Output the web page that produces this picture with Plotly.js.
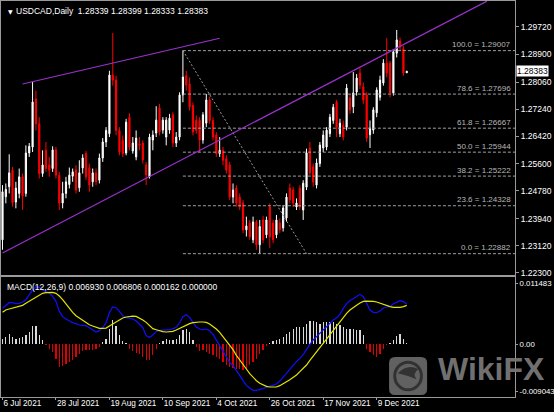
<!DOCTYPE html>
<html><head><meta charset="utf-8">
<script src="https://cdn.plot.ly/plotly-3.0.1.min.js"></script>
<style>html,body{margin:0;padding:0;background:#000;overflow:hidden}#chart{width:554px;height:412px}</style>
</head><body><div id="chart"></div>
<script>
const dates = [
'2021-07-06','2021-07-07','2021-07-08','2021-07-09','2021-07-12','2021-07-13','2021-07-14','2021-07-15','2021-07-16','2021-07-19','2021-07-20','2021-07-21','2021-07-22','2021-07-23','2021-07-26','2021-07-27','2021-07-28','2021-07-29','2021-07-30',
'2021-08-02','2021-08-03','2021-08-04','2021-08-05','2021-08-06','2021-08-09','2021-08-10','2021-08-11','2021-08-12','2021-08-13','2021-08-16','2021-08-17','2021-08-18','2021-08-19','2021-08-20','2021-08-23','2021-08-24','2021-08-25','2021-08-26','2021-08-27','2021-08-30','2021-08-31',
'2021-09-01','2021-09-02','2021-09-03','2021-09-06','2021-09-07','2021-09-08','2021-09-09','2021-09-10','2021-09-13','2021-09-14','2021-09-15','2021-09-16','2021-09-17','2021-09-20','2021-09-21','2021-09-22','2021-09-23','2021-09-24','2021-09-27','2021-09-28','2021-09-29','2021-09-30',
'2021-10-01','2021-10-04','2021-10-05','2021-10-06','2021-10-07','2021-10-08','2021-10-11','2021-10-12','2021-10-13','2021-10-14','2021-10-15','2021-10-18','2021-10-19','2021-10-20','2021-10-21','2021-10-22','2021-10-25','2021-10-26','2021-10-27','2021-10-28','2021-10-29',
'2021-11-01','2021-11-02','2021-11-03','2021-11-04','2021-11-05','2021-11-08','2021-11-09','2021-11-10','2021-11-11','2021-11-12','2021-11-15','2021-11-16','2021-11-17','2021-11-18','2021-11-19','2021-11-22','2021-11-23','2021-11-24','2021-11-25','2021-11-26','2021-11-29','2021-11-30',
'2021-12-01','2021-12-02','2021-12-03','2021-12-06','2021-12-07','2021-12-08','2021-12-09','2021-12-10','2021-12-13','2021-12-14','2021-12-15','2021-12-16','2021-12-17','2021-12-20','2021-12-21','2021-12-22'];

const openP = [1.2330,1.2460,1.2490,1.2540,1.2444,1.2470,1.2520,1.2470,1.2592,1.2610,
1.2755,1.2680,1.2530,1.2600,1.2556,1.2545,1.2601,1.2525,1.2441,1.2470,
1.2497,1.2522,1.2541,1.2487,1.2547,1.2590,1.2547,1.2505,1.2532,1.2510,
1.2577,1.2625,1.2650,1.2827,1.2812,1.2660,1.2630,1.2592,1.2700,1.2598,
1.2580,1.2620,1.2622,1.2556,1.2520,1.2631,1.2652,1.2728,1.2661,1.2640,
1.2661,1.2707,1.2622,1.2640,1.2767,1.2825,1.2800,1.2735,1.2690,1.2691,
1.2631,1.2682,1.2752,1.2690,1.2646,1.2590,1.2600,1.2575,1.2556,1.2459,
1.2486,1.2459,1.2441,1.2360,1.2381,1.2330,1.2384,1.2315,1.2390,1.2345,
1.2429,1.2381,1.2345,1.2381,1.2366,1.2396,1.2486,1.2480,1.2429,1.2486,
1.2420,1.2489,1.2607,1.2550,1.2495,1.2560,1.2607,1.2610,1.2650,1.2690,
1.2746,1.2650,1.2676,1.2670,1.2758,1.2731,1.2776,1.2833,1.2791,1.2767,
1.2647,1.2661,1.2713,1.2760,1.2803,1.2863,1.2863,1.2773,1.2893,1.2930,
1.2906,1.28339];
const highP = [1.2495,1.2500,1.2588,1.2550,1.2505,1.2545,1.2530,1.2615,1.2622,1.2806,
1.2780,1.2700,1.2600,1.2625,1.2580,1.2612,1.2610,1.2535,1.2505,1.2520,
1.2548,1.2545,1.2555,1.2570,1.2588,1.2598,1.2560,1.2545,1.2545,1.2590,
1.2637,1.2670,1.2840,1.2954,1.2825,1.2670,1.2645,1.2695,1.2712,1.2640,
1.2660,1.2640,1.2630,1.2565,1.2650,1.2660,1.2733,1.2740,1.2700,1.2700,
1.2710,1.2715,1.2655,1.2775,1.29007,1.2840,1.2820,1.2745,1.2705,1.2700,
1.2715,1.2770,1.2762,1.2700,1.2655,1.2640,1.2610,1.2585,1.2565,1.2500,
1.2495,1.2470,1.2450,1.2400,1.2390,1.2400,1.2390,1.2390,1.2402,1.2400,
1.2440,1.2390,1.2405,1.2395,1.2435,1.2470,1.2500,1.2490,1.2455,1.2495,
1.2510,1.2605,1.2625,1.2560,1.2575,1.2625,1.2660,1.2670,1.2710,1.2740,
1.2752,1.2695,1.2690,1.2800,1.2770,1.2836,1.2830,1.2848,1.2805,1.2775,
1.2690,1.2730,1.2790,1.2825,1.2875,1.2939,1.2870,1.2905,1.2963,1.2940,
1.2915,1.28399];
const lowP = [1.2300,1.2440,1.2470,1.2430,1.2425,1.2455,1.2420,1.2460,1.2580,1.2595,
1.2660,1.2515,1.2520,1.2535,1.2520,1.2535,1.2515,1.2420,1.2425,1.2455,
1.2485,1.2505,1.2470,1.2475,1.2530,1.2510,1.2475,1.2490,1.2495,1.2500,
1.2565,1.2610,1.2640,1.2795,1.2645,1.2585,1.2580,1.2585,1.2600,1.2590,
1.2570,1.2600,1.2560,1.2495,1.2515,1.2600,1.2640,1.2645,1.2650,1.2615,
1.2650,1.2610,1.2610,1.2630,1.2745,1.2780,1.2720,1.2645,1.2650,1.2595,
1.2620,1.2670,1.2680,1.2630,1.2580,1.2580,1.2555,1.2530,1.2450,1.2440,
1.2430,1.2420,1.2350,1.2340,1.2330,1.2320,1.2300,1.22882,1.2320,1.2335,
1.2305,1.2320,1.2335,1.2350,1.2355,1.2385,1.2440,1.2430,1.2420,1.2420,
1.2390,1.2480,1.2525,1.2490,1.2485,1.2550,1.2595,1.2600,1.2640,1.2680,
1.2640,1.2640,1.2630,1.2660,1.2710,1.2712,1.2765,1.2785,1.2740,1.2625,
1.2607,1.2650,1.2700,1.2750,1.2795,1.2820,1.2760,1.2765,1.2880,1.2900,
1.2825,1.28333];
const closeP = [1.2475,1.2482,1.2532,1.2442,1.2486,1.2520,1.2462,1.2592,1.2612,1.2746,
1.2680,1.2530,1.2556,1.2545,1.2540,1.2601,1.2525,1.2441,1.2470,1.2505,
1.2525,1.2535,1.2480,1.2532,1.2577,1.2520,1.2495,1.2532,1.2505,1.2577,
1.2625,1.2660,1.2827,1.2812,1.2660,1.2595,1.2590,1.2685,1.2610,1.2622,
1.2637,1.2615,1.2571,1.2526,1.2640,1.2646,1.2691,1.2655,1.2691,1.2691,
1.2697,1.2622,1.2640,1.2767,1.2821,1.2797,1.2731,1.2655,1.2660,1.2631,
1.2707,1.2752,1.2690,1.2640,1.2590,1.2600,1.2570,1.2540,1.2459,1.2480,
1.2441,1.2429,1.2360,1.2372,1.2339,1.2384,1.2315,1.2370,1.2330,1.2390,
1.2339,1.2330,1.2390,1.2360,1.2426,1.2459,1.2450,1.2441,1.2441,1.2429,
1.2501,1.2592,1.2532,1.2504,1.2562,1.2616,1.2646,1.2661,1.2700,1.2730,
1.2670,1.2682,1.2640,1.2788,1.2722,1.2773,1.2818,1.2797,1.2752,1.2637,
1.2667,1.2722,1.2782,1.2812,1.2863,1.2833,1.2773,1.2897,1.2933,1.2912,
1.2833,1.28383];

const macdMain = [0.00621,0.00679,0.00719,0.00719,0.00702,0.00708,0.00731,0.00771,0.00864,0.00940,
0.00998,0.00986,0.00940,0.00905,0.00882,0.00829,0.00742,0.00568,0.00476,0.00435,
0.00400,0.00371,0.00354,0.00331,0.00325,0.00319,0.00284,0.00244,0.00209,0.00232,
0.00284,0.00371,0.00545,0.00644,0.00632,0.00568,0.00493,0.00458,0.00441,0.00435,
0.00400,0.00348,0.00284,0.00145,0.00116,0.00157,0.00215,0.00238,0.00238,0.00238,
0.00249,0.00267,0.00290,0.00365,0.00476,0.00510,0.00464,0.00377,0.00296,0.00261,
0.00249,0.00261,0.00232,0.00168,0.00075,-0.00023,-0.00122,-0.00215,-0.00319,-0.00377,
-0.00452,-0.00545,-0.00638,-0.00719,-0.00771,-0.00806,-0.00806,-0.00795,-0.00777,-0.00754,
-0.00737,-0.00719,-0.00696,-0.00644,-0.00568,-0.00510,-0.00441,-0.00365,-0.00307,-0.00249,
-0.00186,-0.00093,-0.00006,0.00070,0.00128,0.00186,0.00244,0.00302,0.00360,0.00418,
0.00452,0.00516,0.00621,0.00702,0.00754,0.00795,0.00829,0.00864,0.00824,0.00702,
0.00592,0.00551,0.00545,0.00574,0.00626,0.00644,0.00650,0.00702,0.00731,0.00754,
0.00737,0.00696];
const macdSignal = [0.00551,0.00592,0.00609,0.00626,0.00644,0.00650,0.00673,0.00708,0.00742,0.00783,
0.00824,0.00858,0.00882,0.00893,0.00899,0.00899,0.00882,0.00835,0.00771,0.00696,
0.00615,0.00551,0.00493,0.00452,0.00412,0.00371,0.00336,0.00313,0.00296,0.00273,
0.00273,0.00278,0.00313,0.00348,0.00389,0.00423,0.00452,0.00470,0.00481,0.00487,
0.00481,0.00452,0.00418,0.00377,0.00319,0.00267,0.00249,0.00226,0.00215,0.00209,
0.00209,0.00220,0.00244,0.00273,0.00302,0.00325,0.00354,0.00371,0.00383,0.00383,
0.00383,0.00377,0.00348,0.00307,0.00261,0.00203,0.00128,0.00058,-0.00023,-0.00099,
-0.00197,-0.00284,-0.00360,-0.00435,-0.00516,-0.00586,-0.00638,-0.00684,-0.00713,-0.00737,
-0.00748,-0.00748,-0.00748,-0.00725,-0.00696,-0.00655,-0.00621,-0.00580,-0.00539,-0.00481,
-0.00423,-0.00365,-0.00284,-0.00209,-0.00133,-0.00052,0.00023,0.00099,0.00174,0.00244,
0.00313,0.00383,0.00458,0.00534,0.00592,0.00638,0.00673,0.00713,0.00742,0.00748,
0.00748,0.00742,0.00731,0.00708,0.00690,0.00673,0.00650,0.00638,0.00632,0.00638,
0.00650,0.00673];
const macdHist = [0.00093,0.00122,0.00168,0.00122,0.00093,0.00104,0.00122,0.00151,0.00209,0.00307,0.00307,0.00151,0.00064,
-0.00023,-0.00081,-0.00139,-0.00255,-0.00400,-0.00389,-0.00342,-0.00313,-0.00284,-0.00226,-0.00180,-0.00122,-0.00099,-0.00110,-0.00110,-0.00081,-0.00052,
0.00035,0.00093,0.00267,0.00412,0.00307,0.00151,0.00052,0.00017,
-0.00081,-0.00122,-0.00157,-0.00180,-0.00226,-0.00273,-0.00284,-0.00197,-0.00081,
0.00017,0.00052,0.00093,0.00064,0.00064,0.00093,0.00151,0.00238,0.00267,0.00209,0.00064,
-0.00052,-0.00122,-0.00110,-0.00139,-0.00168,-0.00197,-0.00226,-0.00255,-0.00313,-0.00371,-0.00400,-0.00412,-0.00429,-0.00429,-0.00447,-0.00429,-0.00371,-0.00313,-0.00255,-0.00180,-0.00110,-0.00041,
0.00017,0.00052,0.00075,0.00093,0.00122,0.00168,0.00209,0.00267,0.00296,0.00296,0.00296,0.00354,0.00400,0.00400,0.00383,0.00354,0.00383,0.00383,0.00383,0.00383,0.00354,0.00325,0.00296,0.00267,0.00267,0.00267,0.00249,0.00238,0.00151,
-0.00081,-0.00139,-0.00197,-0.00226,-0.00180,-0.00081,-0.00023,
0.00017,0.00064,0.00133,0.00168,0.00093,0.00016];

const priceTickVals = [1.29720,1.28900,1.28060,1.27240,1.26420,1.25600,1.24780,1.23940,1.23120,1.22300];
const dateTickVals = ['2021-07-06','2021-07-28','2021-08-19','2021-09-10','2021-10-04','2021-10-26','2021-11-17','2021-12-09'];
const dateTickText = ['6 Jul 2021','28 Jul 2021','19 Aug 2021','10 Sep 2021','4 Oct 2021','26 Oct 2021','17 Nov 2021','9 Dec 2021'];
const macdTickVals = [0.0106, 0, -0.0082];
const macdTickText = ['0.011483','0.00','-0.009043'];
const fibLevels = [100.0, 78.6, 61.8, 50.0, 38.2, 23.6, 0.0];
const fibPrices = [1.29007, 1.27696, 1.26667, 1.25944, 1.25222, 1.24328, 1.22882];
const fibHighDate = '2021-09-20';
const fibLowDate = '2021-11-10';
const upperChannelDates = ['2021-07-14','2021-10-05'];
const upperChannelPrices = [1.28000, 1.29379];
const lowerChannelIdx = [0, 145];
const lowerChannelPrices = [1.22903, 1.30500];
const titleText = 'USDCAD,Daily  1.28339 1.28399 1.28333 1.28383';
const macdText = 'MACD(12,26,9) 0.006930 0.006806 0.000162 0.000000';

const FONT = 'Liberation Sans, Arial, sans-serif';
const xRange = [-0.45, 153.4];
const lastIdx = dates.length - 1;
const idx = d => dates.indexOf(d);

const traces = [
  {type:'candlestick', x:dates, open:openP, high:highP, low:lowP, close:closeP,
   xaxis:'x', yaxis:'y', whiskerwidth:0, hoverinfo:'skip',
   increasing:{line:{color:'#ffffff', width:1}, fillcolor:'#ffffff'},
   decreasing:{line:{color:'#ff0000', width:1}, fillcolor:'#ff0000'}},
  {type:'bar', x:dates, y:macdHist, xaxis:'x2', yaxis:'y2', width:0.38,
   marker:{color: macdHist.map(v => v >= 0 ? '#d9d9d9' : '#e00000'), line:{width:0}}, hoverinfo:'skip'},
  {type:'scatter', mode:'lines', x:dates, y:macdMain, xaxis:'x2', yaxis:'y2',
   line:{color:'#1010ff', width:1.2}, hoverinfo:'skip'},
  {type:'scatter', mode:'lines', x:dates, y:macdSignal, xaxis:'x2', yaxis:'y2',
   line:{color:'#e4e400', width:1.2}, hoverinfo:'skip'}
];

const shapes = [];
const annotations = [];
const hiIdx = idx(fibHighDate), loIdx = idx(fibLowDate);
fibLevels.forEach((lv, k) => {
  shapes.push({type:'line', xref:'x', yref:'y', x0:hiIdx, x1:xRange[1], y0:fibPrices[k], y1:fibPrices[k],
    line:{color:'#a0a0a0', width:1, dash:'3px,2px'}});
  annotations.push({xref:'paper', yref:'y', x:0.996, y:fibPrices[k], xanchor:'right', yanchor:'middle', yshift:6,
    text: lv.toFixed(1) + ' = ' + fibPrices[k].toFixed(5), showarrow:false, font:{family:FONT, size:8, color:'#b8b8b8'}});
});
shapes.push({type:'line', xref:'x', yref:'y', x0:hiIdx, x1:loIdx, y0:fibPrices[0], y1:fibPrices[fibPrices.length-1],
  line:{color:'#9c9c9c', width:1, dash:'2px,2px'}});
shapes.push({type:'line', xref:'x', yref:'y', x0:idx(upperChannelDates[0]), x1:idx(upperChannelDates[1]),
  y0:upperChannelPrices[0], y1:upperChannelPrices[1], line:{color:'#9a32cd', width:1.2}});
shapes.push({type:'line', xref:'x', yref:'y', x0:lowerChannelIdx[0], x1:lowerChannelIdx[1],
  y0:lowerChannelPrices[0], y1:lowerChannelPrices[1], line:{color:'#9a32cd', width:1.2}});

// WikiFX watermark (paper coords)
const lx0 = 0.755, lx1 = 0.829, ly0 = 0.005, ly1 = 0.101, rr = 0.012, ry = 0.016;
shapes.push({type:'path', xref:'paper', yref:'paper', layer:'above', fillcolor:'rgba(105,105,105,0.92)', line:{width:0},
  path:`M ${lx0+rr} ${ly0} L ${lx1-rr} ${ly0} Q ${lx1} ${ly0} ${lx1} ${ly0+ry} L ${lx1} ${ly1-ry} Q ${lx1} ${ly1} ${lx1-rr} ${ly1} L ${lx0+rr} ${ly1} Q ${lx0} ${ly1} ${lx0} ${ly1-ry} L ${lx0} ${ly0+ry} Q ${lx0} ${ly0} ${lx0+rr} ${ly0} Z`});
shapes.push({type:'circle', xref:'paper', yref:'paper', layer:'above', x0:0.766, x1:0.818, y0:0.018, y1:0.088,
  line:{color:'rgba(45,45,45,0.9)', width:3}});
shapes.push({type:'path', xref:'paper', yref:'paper', layer:'above', fillcolor:'rgba(45,45,45,0.9)', line:{width:0},
  path:'M 0.772 0.06 Q 0.792 0.085 0.812 0.07 Q 0.800 0.060 0.808 0.045 Q 0.790 0.055 0.772 0.06 Z'});
annotations.push({xref:'paper', yref:'paper', x:0.847, y:0.07, xanchor:'left', yanchor:'middle', showarrow:false,
  text:'<b>WikiFX</b>', font:{family:FONT, size:32, color:'rgba(120,120,120,0.95)'}});

annotations.push({xref:'paper', yref:'paper', x:0, y:1, xanchor:'left', yanchor:'top', xshift:5, yshift:-5,
  text:'▼', showarrow:false, font:{family:'DejaVu Sans', size:6, color:'#ffffff'}});
annotations.push({xref:'paper', yref:'paper', x:0, y:1, xanchor:'left', yanchor:'top', xshift:13, yshift:-3,
  text:titleText, showarrow:false, font:{family:FONT, size:8.5, color:'#ffffff'}});
annotations.push({xref:'paper', yref:'paper', x:0, y:0.303, xanchor:'left', yanchor:'top', xshift:4, yshift:-3,
  text:macdText, showarrow:false, font:{family:FONT, size:8.5, color:'#ffffff'}});
annotations.push({xref:'paper', yref:'y', x:1, y:closeP[lastIdx], xanchor:'left', yanchor:'middle', xshift:1,
  text:closeP[lastIdx].toFixed(5), showarrow:false, bgcolor:'#ffffff', borderpad:0,
  font:{family:FONT, size:8.5, color:'#000000'}});

const axisCommon = {showgrid:false, zeroline:false, showline:true, mirror:true, linecolor:'#9a9a9a', linewidth:1, fixedrange:true};
const layout = {
  width:554, height:412, paper_bgcolor:'#000000', plot_bgcolor:'#000000',
  margin:{l:1, r:39, t:1, b:15}, showlegend:false, boxgap:0.5, bargap:0,
  font:{family:FONT, size:8.5, color:'#ffffff'},
  xaxis:Object.assign({}, axisCommon, {type:'category', domain:[0,1], anchor:'y', range:xRange,
    showticklabels:false, ticks:'', rangeslider:{visible:false}}),
  xaxis2:Object.assign({}, axisCommon, {type:'category', domain:[0,1], anchor:'y2', matches:'x', range:xRange,
    tickvals:dateTickVals, ticktext:dateTickText, ticks:'outside', ticklen:2, tickcolor:'#9a9a9a', tickangle:0,
    ticklabelposition:'outside right', ticklabelstandoff:-2, tickfont:{family:FONT, size:8.2, color:'#ffffff'}}),
  yaxis:Object.assign({}, axisCommon, {domain:[0.3081,1], anchor:'x', side:'right', range:[1.22239,1.30504],
    tickvals:priceTickVals, ticktext:priceTickVals.map(v => v.toFixed(5)), ticks:'outside', ticklen:3,
    tickcolor:'#9a9a9a', tickfont:{family:FONT, size:8.5, color:'#ffffff'}}),
  yaxis2:Object.assign({}, axisCommon, {domain:[0,0.303], anchor:'x2', side:'right', range:[-0.00922,0.01166],
    tickvals:macdTickVals, ticktext:macdTickText, ticks:'outside', ticklen:2,
    tickcolor:'#9a9a9a', tickfont:{family:FONT, size:7.8, color:'#ffffff'}}),
  shapes:shapes, annotations:annotations
};
Plotly.newPlot('chart', traces, layout, {staticPlot:true, displayModeBar:false});
</script></body></html>
